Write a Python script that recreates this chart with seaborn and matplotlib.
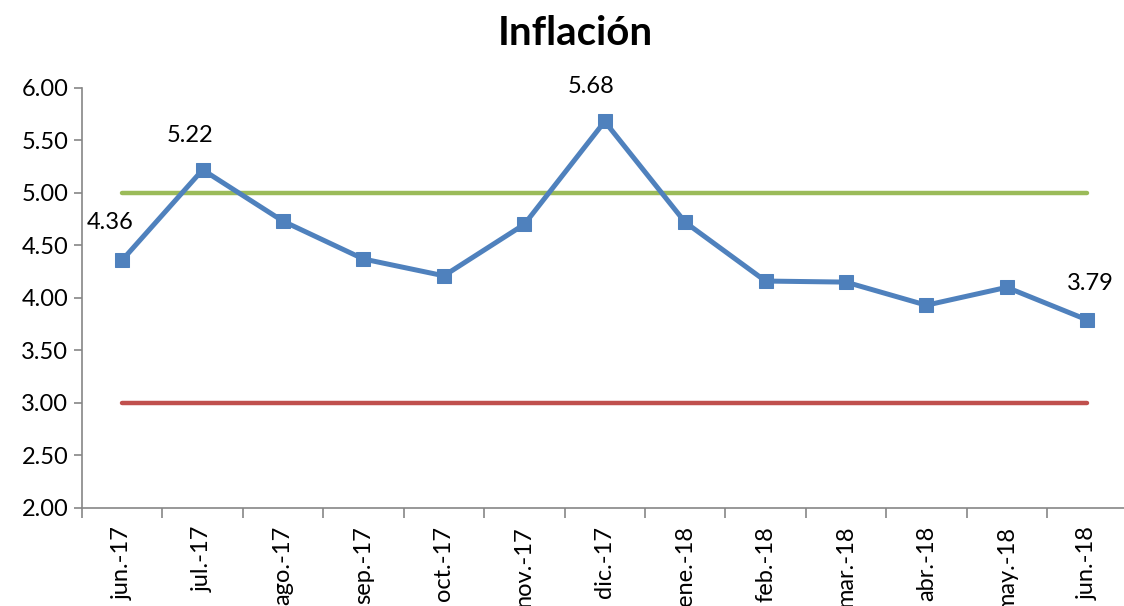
import matplotlib
matplotlib.use("Agg")
import matplotlib.pyplot as plt
import seaborn as sns
import pandas as pd
import numpy as np
from matplotlib.ticker import FixedLocator, FormatStrFormatter

meses = ["jun.-17", "jul.-17", "ago.-17", "sep.-17", "oct.-17", "nov.-17", "dic.-17",
         "ene.-18", "feb.-18", "mar.-18", "abr.-18", "may.-18", "jun.-18"]
inflacion = [4.36, 5.22, 4.73, 4.37, 4.21, 4.70, 5.68, 4.72, 4.16, 4.15, 3.93, 4.10, 3.79]
limite_sup = [5.0] * 13
limite_inf = [3.0] * 13
etiquetas = {0: "4.36", 1: "5.22", 6: "5.68", 12: "3.79"}

sns.set_theme(style="white")
plt.rcParams['font.family'] = ['Lato', 'DejaVu Sans']

df = pd.DataFrame({"mes": meses, "pos": np.arange(len(meses)),
                   "inflacion": inflacion, "sup": limite_sup, "inf": limite_inf})

fig = plt.figure(figsize=(11.24, 6.06), dpi=100)
ax = fig.add_axes([0.073, 0.162, 0.93, 0.693])

sns.lineplot(data=df, x="pos", y="sup", ax=ax, color="#9BBB59", linewidth=3.2,
             solid_capstyle="round")
sns.lineplot(data=df, x="pos", y="inf", ax=ax, color="#C0504D", linewidth=3.2,
             solid_capstyle="round")
sns.lineplot(data=df, x="pos", y="inflacion", ax=ax, color="#4F81BD", linewidth=3.6,
             marker="s", markersize=10, markeredgecolor="#4F81BD")

offsets = {0: (-9, 27), 1: (-9, 25), 6: (-10, 25), 12: (2, 26)}
for i, txt in etiquetas.items():
    ax.annotate(txt, (df["pos"][i], df["inflacion"][i]), textcoords="offset points",
                xytext=offsets[i], ha="center", va="center", fontsize=17, color="black")

ax.set_ylim(2.0, 6.0)
ax.set_yticks(np.arange(2.0, 6.01, 0.5))
ax.yaxis.set_major_formatter(FormatStrFormatter("%.2f"))
ax.set_xlim(-0.5, len(meses) - 0.5)
ax.xaxis.set_major_locator(FixedLocator(np.arange(-0.5, len(meses), 1.0)))
ax.set_xticklabels([])
ax.xaxis.set_minor_locator(FixedLocator(np.arange(len(meses))))
ax.set_xticklabels(meses, minor=True, rotation=90, fontsize=17, color="black")
ax.tick_params(axis="x", which="major", length=7, width=1.2, color="#868686", direction="out", bottom=True)
ax.tick_params(axis="x", which="minor", length=0, pad=13)
ax.tick_params(axis="y", length=6, width=1.2, color="#868686", direction="out", left=True,
               labelsize=17, labelcolor="black", pad=4)
ax.set_xlabel("")
ax.set_ylabel("")
for s in ["top", "right"]:
    ax.spines[s].set_visible(False)
for s in ["left", "bottom"]:
    ax.spines[s].set_color("#868686")
    ax.spines[s].set_linewidth(1.2)

fig.suptitle("Inflación", fontsize=29, fontweight="bold", x=0.512, y=0.975, va="top", color="black")

fig.savefig("out.png", dpi=100)
